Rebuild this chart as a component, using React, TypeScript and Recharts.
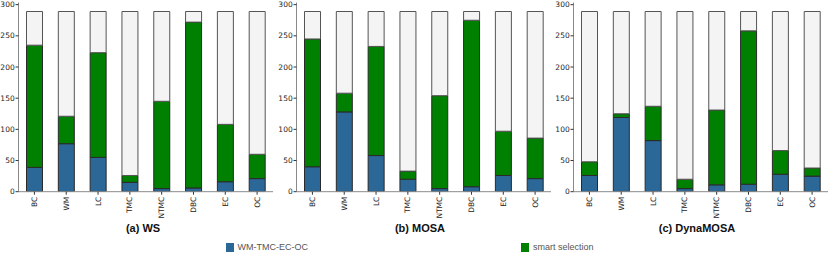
import React from "react";
import { BarChart, Bar, XAxis, YAxis } from "recharts";

const categories = ["BC", "WM", "LC", "TMC", "NTMC", "DBC", "EC", "OC"];
const TOTAL = 289;
const yTicks = [0, 50, 100, 150, 200, 250, 300];

// blue = WM-TMC-EC-OC, green = smart selection
const wsBlue = [39, 77, 55, 15, 5, 6, 16, 21];
const wsGreen = [196, 44, 168, 11, 140, 266, 92, 39];
const mosaBlue = [40, 128, 58, 20, 5, 8, 26, 21];
const mosaGreen = [205, 30, 175, 13, 149, 267, 71, 65];
const dynaBlue = [26, 119, 82, 5, 11, 12, 28, 25];
const dynaGreen = [22, 6, 55, 15, 120, 246, 38, 13];

const titles = ["(a) WS", "(b) MOSA", "(c) DynaMOSA"];

const BLUE = "#2b6797";
const GREEN = "#008000";
const REST = "#f4f4f4";
const EDGE = "#2a2a2a";
const FRAME = "#8a8a8a";

function build(blue: number[], green: number[]) {
  return categories.map((name, i) => ({
    name,
    blue: blue[i],
    green: green[i],
    rest: TOTAL - blue[i] - green[i],
  }));
}

const panels = [
  { title: titles[0], data: build(wsBlue, wsGreen), left: 0, titleX: 143 },
  { title: titles[1], data: build(mosaBlue, mosaGreen), left: 277.5, titleX: 420 },
  { title: titles[2], data: build(dynaBlue, dynaGreen), left: 555.2, titleX: 697 },
];

const XTick = (props: any) => {
  const { x, y, payload } = props;
  return (
    <text
      x={x}
      y={y}
      transform={`rotate(-90, ${x}, ${y})`}
      textAnchor="end"
      dy="0.35em"
      fontSize={7.5}
      fill="#222"
      fontFamily="DejaVu Sans"
    >
      {payload.value}
    </text>
  );
};

function Panel({ data }: { data: any[] }) {
  return (
    <BarChart
      width={276}
      height={240}
      data={data}
      margin={{ top: 2.5, right: 3, bottom: 0, left: 0 }}
      barSize={16}
    >
      <XAxis
        dataKey="name"
        height={48.3}
        tickSize={3}
        tickMargin={2}
        interval={0}
        tick={<XTick />}
        axisLine={{ stroke: FRAME }}
        tickLine={{ stroke: "#333" }}
      />
      <XAxis
        xAxisId="top"
        orientation="top"
        dataKey="name"
        height={0}
        tick={false}
        tickLine={false}
        axisLine={{ stroke: FRAME }}
      />
      <YAxis
        type="number"
        domain={[0, 303.45]}
        ticks={yTicks}
        allowDataOverflow
        width={18.5}
        tickSize={3}
        tickMargin={0.8}
        tick={{ fontSize: 7.5, fill: "#222", fontFamily: "DejaVu Sans" }}
        axisLine={{ stroke: FRAME }}
        tickLine={{ stroke: "#333" }}
      />
      <YAxis
        yAxisId="right"
        orientation="right"
        domain={[0, 303.45]}
        width={0}
        tick={false}
        tickLine={false}
        axisLine={{ stroke: FRAME }}
      />
      <Bar dataKey="blue" stackId="s" fill={BLUE} stroke={EDGE} strokeWidth={1} isAnimationActive={false} />
      <Bar dataKey="green" stackId="s" fill={GREEN} stroke={EDGE} strokeWidth={1} isAnimationActive={false} />
      <Bar dataKey="rest" stackId="s" fill={REST} stroke="#555" strokeWidth={1} isAnimationActive={false} />
    </BarChart>
  );
}

export default function App() {
  return (
    <div
      style={{
        position: "absolute",
        left: 0,
        top: 0,
        width: 830,
        height: 257,
        background: "#fff",
        fontFamily: "'Liberation Sans', Arial, sans-serif",
      }}
    >
      {panels.map((p) => (
        <div key={p.title} style={{ position: "absolute", left: p.left, top: 0 }}>
          <Panel data={p.data} />
        </div>
      ))}
      {panels.map((p) => (
        <div
          key={p.title + "-t"}
          style={{
            position: "absolute",
            left: p.titleX - 60,
            width: 120,
            top: 221,
            textAlign: "center",
            fontWeight: "bold",
            fontSize: 11,
            color: "#111",
            lineHeight: "14px",
          }}
        >
          {p.title}
        </div>
      ))}
      {[
        { label: "WM-TMC-EC-OC", color: BLUE, x: 225.5 },
        { label: "smart selection", color: GREEN, x: 521 },
      ].map((l) => (
        <div
          key={l.label}
          style={{
            position: "absolute",
            left: l.x,
            top: 242,
            display: "flex",
            alignItems: "center",
            fontSize: 9,
            color: "#555",
            lineHeight: "11px",
          }}
        >
          <span style={{ display: "inline-block", width: 8, height: 9, background: l.color, marginRight: 4 }} />
          {l.label}
        </div>
      ))}
    </div>
  );
}
